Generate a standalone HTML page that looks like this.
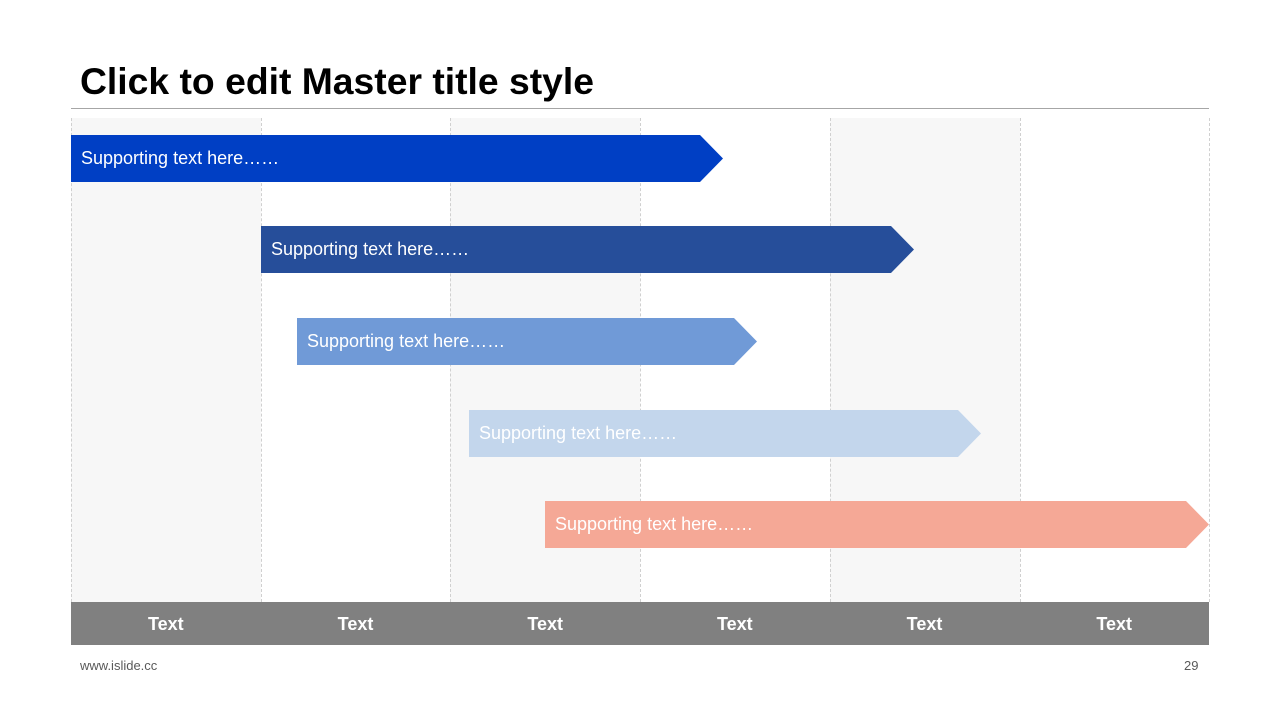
<!DOCTYPE html>
<html><head><style>
body{margin:0;width:1280px;height:720px;background:#fff;position:relative;overflow:hidden;font-family:"Liberation Sans",Arial,sans-serif}
.t{position:absolute;left:80px;top:60px;font-size:37.3px;font-weight:bold;color:#000}
.line{position:absolute;left:71px;top:108px;width:1138px;height:1px;background:#a6a6a6}
.col{position:absolute;top:118px;height:484px;width:190px}
.v{position:absolute;top:118px;height:484px;border-left:1px dashed #d0d0d0}
.bar{position:absolute;height:47px;color:#fff;font-size:18px;line-height:47px;padding-left:10px;box-sizing:border-box;clip-path:polygon(0 0,calc(100% - 23px) 0,100% 50%,calc(100% - 23px) 100%,0 100%)}
.foot{position:absolute;left:71px;top:602px;width:1138px;height:43px;background:#808080;display:flex}
.foot div{flex:1;text-align:center;color:#fff;font-weight:bold;font-size:18px;line-height:44px}
.s{position:absolute;top:658px;font-size:13px;color:#595959}
</style></head><body>
<div class="t">Click to edit Master title style</div>
<div class="line"></div>
<div class="col" style="left:71px;background:#f7f7f7"></div>
<div class="col" style="left:450px;background:#f7f7f7"></div>
<div class="col" style="left:830px;background:#f7f7f7"></div>
<div class="v" style="left:71px"></div><div class="v" style="left:261px"></div><div class="v" style="left:450px"></div><div class="v" style="left:640px"></div><div class="v" style="left:830px"></div><div class="v" style="left:1020px"></div><div class="v" style="left:1209px"></div>
<div class="bar" style="left:71px;top:135px;width:652px;background:#003fc4">Supporting text here……</div>
<div class="bar" style="left:261px;top:226px;width:653px;background:#264e9a">Supporting text here……</div>
<div class="bar" style="left:297px;top:318px;width:460px;background:#709ad7">Supporting text here……</div>
<div class="bar" style="left:469px;top:410px;width:512px;background:#c3d6ec">Supporting text here……</div>
<div class="bar" style="left:545px;top:501px;width:664px;background:#f5a896">Supporting text here……</div>
<div class="foot"><div>Text</div><div>Text</div><div>Text</div><div>Text</div><div>Text</div><div>Text</div></div>
<div class="s" style="left:80px">www.islide.cc</div>
<div class="s" style="left:1184px">29</div>
</body></html>
